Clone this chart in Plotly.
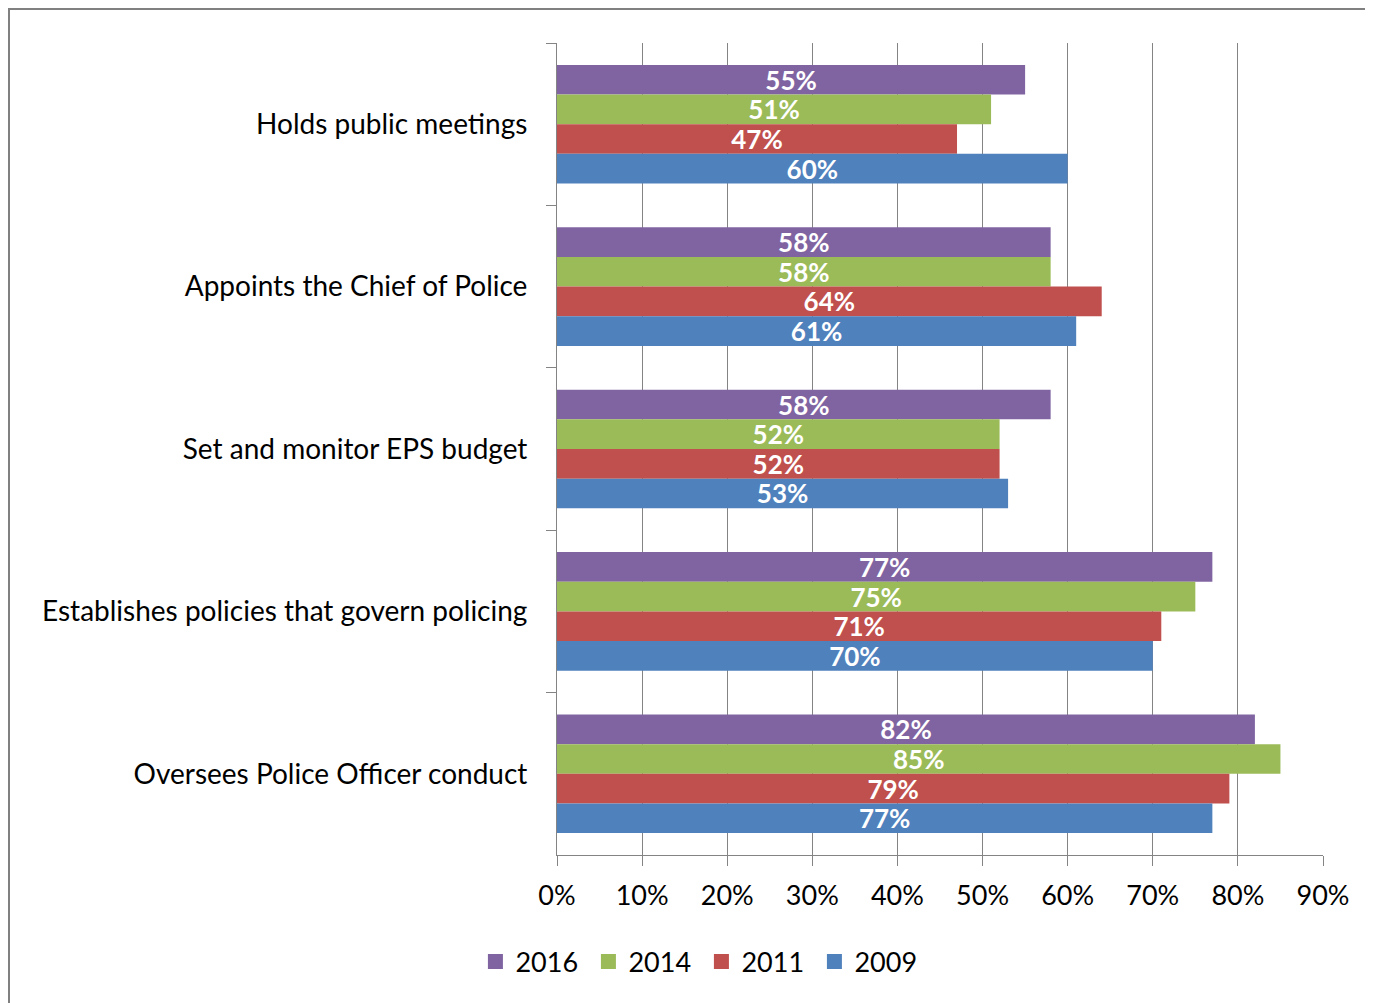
import plotly.graph_objects as go

categories = ["Holds public meetings", "Appoints the Chief of Police", "Set and monitor EPS budget",
              "Establishes policies that govern policing", "Oversees Police Officer conduct"]
series_names = ["2016", "2014", "2011", "2009"]
values_2016 = [55, 58, 58, 77, 82]
values_2014 = [51, 58, 52, 75, 85]
values_2011 = [47, 64, 52, 71, 79]
values_2009 = [60, 61, 53, 70, 77]
colors = ["#8064A2", "#9BBB59", "#C0504D", "#4F81BD"]
x_ticks = [0, 10, 20, 30, 40, 50, 60, 70, 80, 90]
x_tick_labels = [f"{v}%" for v in x_ticks]

FONT = "Lato"
# page has an 8px body margin; figure sized/offset to compensate
W, H = 1365, 995
L, T = 549, 35
pw, ph = 766, 812
R, B = W - L - pw, H - T - ph

def px_x(p):
    return (p - L) / pw

def px_y(p):
    return (H - B - p) / ph

fig = go.Figure()
for name, vals, col in zip(series_names, [values_2016, values_2014, values_2011, values_2009], colors):
    fig.add_trace(go.Bar(
        y=categories, x=vals, name=name, orientation="h",
        marker=dict(color=col, line=dict(width=0)),
        text=[f"{v}%" for v in vals], textposition="inside", insidetextanchor="middle",
        textfont=dict(family=FONT, size=26, color="white", weight="bold"),
        constraintext="none", cliponaxis=False, showlegend=False,
    ))
# legend entries with square markers
for name, col in zip(series_names, colors):
    fig.add_trace(go.Scatter(
        x=[None], y=[None], mode="markers", name=name,
        marker=dict(symbol="square", size=15, color=col),
        showlegend=True,
    ))

fig.update_layout(
    width=W, height=H,
    margin=dict(l=L, r=R, t=T, b=B, pad=0),
    paper_bgcolor="white", plot_bgcolor="white",
    barmode="group", bargap=0.27, bargroupgap=0,
    font=dict(family=FONT, size=27, color="black"),
    uniformtext=dict(mode=False),
    xaxis=dict(range=[0, 90], tickvals=x_ticks, ticktext=x_tick_labels,
               showgrid=True, gridcolor="#848484", gridwidth=1,
               showline=True, linecolor="#848484", linewidth=1,
               ticks="outside", ticklen=10, tickcolor="#848484",
               ticklabelstandoff=7, zeroline=False,
               tickfont=dict(family=FONT, size=27)),
    yaxis=dict(autorange="reversed", showline=True, linecolor="#848484", linewidth=1,
               ticks="outside", ticklen=10, tickcolor="#848484", tickson="boundaries",
               showgrid=False, ticklabelstandoff=23,
               tickfont=dict(family=FONT, size=28)),
    legend=dict(orientation="h", xref="container", yref="container",
                x=0.508, xanchor="center", y=1 - 954 / H, yanchor="middle",
                traceorder="normal", font=dict(family=FONT, size=27),
                entrywidth=68, entrywidthmode="pixels", itemwidth=30),
    showlegend=True,
)

# window frame lines (top and left)
shapes = [
    dict(type="rect", xref="paper", yref="paper", x0=px_x(0), x1=px_x(W), y0=px_y(2), y1=px_y(0),
         fillcolor="#808080", line=dict(width=0), layer="above"),
    dict(type="rect", xref="paper", yref="paper", x0=px_x(0), x1=px_x(2), y0=px_y(H), y1=px_y(0),
         fillcolor="#808080", line=dict(width=0), layer="above"),
]
fig.update_layout(shapes=shapes)

fig.write_html("out.html")
